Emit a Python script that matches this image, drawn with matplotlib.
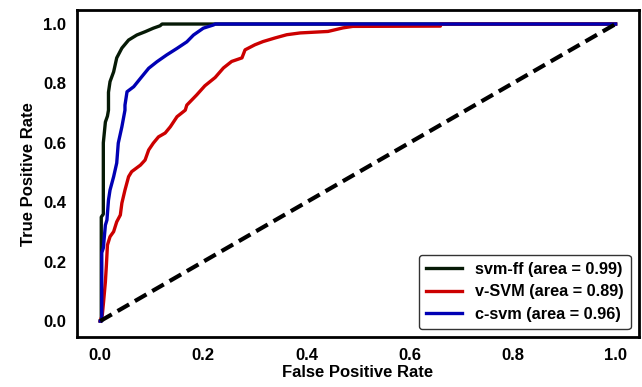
import matplotlib
matplotlib.use("Agg")
import matplotlib.pyplot as plt

# svm-ff ROC
ff_fpr = [0.0, 0.002, 0.002, 0.006, 0.006, 0.010, 0.014, 0.016, 0.016, 0.019, 0.026, 0.032,
          0.042, 0.055, 0.071, 0.087, 0.103, 0.116, 0.120, 1.0]
ff_tpr = [0.0, 0.0, 0.35, 0.36, 0.60, 0.67, 0.69, 0.71, 0.77, 0.806, 0.839, 0.886,
          0.919, 0.946, 0.963, 0.974, 0.986, 0.994, 1.0, 1.0]

# v-SVM ROC
v_fpr = [0.0, 0.004, 0.0065, 0.010, 0.012, 0.014, 0.019, 0.026, 0.032, 0.039, 0.042, 0.048,
         0.055, 0.061, 0.078, 0.087, 0.094, 0.103, 0.113, 0.126, 0.136, 0.149, 0.165, 0.168,
         0.187, 0.203, 0.223, 0.239, 0.255, 0.275, 0.281, 0.300, 0.316, 0.339, 0.362, 0.388,
         0.442, 0.471, 0.490, 0.660, 0.660, 1.0]
v_tpr = [0.0, 0.02, 0.065, 0.132, 0.189, 0.256, 0.284, 0.301, 0.334, 0.357, 0.397, 0.441,
         0.486, 0.503, 0.525, 0.542, 0.576, 0.599, 0.620, 0.633, 0.654, 0.688, 0.710, 0.727,
         0.761, 0.792, 0.820, 0.852, 0.874, 0.886, 0.913, 0.930, 0.941, 0.953, 0.964, 0.970,
         0.975, 0.987, 0.992, 0.993, 1.0, 1.0]

# c-svm ROC
c_fpr = [0.0, 0.003, 0.003, 0.006, 0.010, 0.013, 0.016, 0.019, 0.026, 0.032, 0.035, 0.042,
         0.048, 0.048, 0.052, 0.065, 0.078, 0.094, 0.110, 0.129, 0.149, 0.168, 0.181, 0.200,
         0.220, 0.223, 1.0]
c_tpr = [0.0, 0.0, 0.23, 0.246, 0.323, 0.340, 0.407, 0.441, 0.486, 0.532, 0.599, 0.654,
         0.710, 0.727, 0.772, 0.789, 0.817, 0.851, 0.873, 0.896, 0.918, 0.940, 0.963, 0.986,
         0.997, 1.0, 1.0]

labels = ["svm-ff (area = 0.99)", "v-SVM (area = 0.89)", "c-svm (area = 0.96)"]
ticks = [0.0, 0.2, 0.4, 0.6, 0.8, 1.0]

plt.rcParams['font.family'] = ['Liberation Sans', 'DejaVu Sans']

fig = plt.figure(figsize=(6.42, 3.87), dpi=100)
ax = fig.add_axes([0.12, 0.129, 0.875, 0.845])

ax.plot(ff_fpr, ff_tpr, color='#061a06', lw=2.4, label=labels[0])
ax.plot(v_fpr, v_tpr, color='#cc0000', lw=2.4, label=labels[1])
ax.plot(c_fpr, c_tpr, color='#0000b4', lw=2.4, label=labels[2])
ax.plot([0, 1], [0, 1], color='black', lw=3, linestyle=(0, (3.2, 1.6)))

ax.set_xlim(-0.045, 1.045)
ax.set_ylim(-0.054, 1.047)
ax.set_xticks(ticks)
ax.set_yticks(ticks)
ax.set_xticklabels([f"{t:.1f}" for t in ticks], fontsize=12, fontweight='bold')
ax.set_yticklabels([f"{t:.1f}" for t in ticks], fontsize=12, fontweight='bold')
ax.tick_params(length=0, pad=8)
ax.set_xlabel("False Positive Rate", fontsize=12, fontweight='bold', labelpad=1)
ax.set_ylabel("True Positive Rate", fontsize=12, fontweight='bold', labelpad=5)
for s in ax.spines.values():
    s.set_linewidth(2)
    s.set_color('black')

leg = ax.legend(loc='lower right', fontsize=11.7, frameon=True, handlelength=2.2,
                borderpad=0.45, labelspacing=0.45, fancybox=True)
leg.get_frame().set_edgecolor('black')
leg.get_frame().set_linewidth(1.0)
for t in leg.get_texts():
    t.set_fontweight('bold')

fig.savefig("out.png", dpi=100)
